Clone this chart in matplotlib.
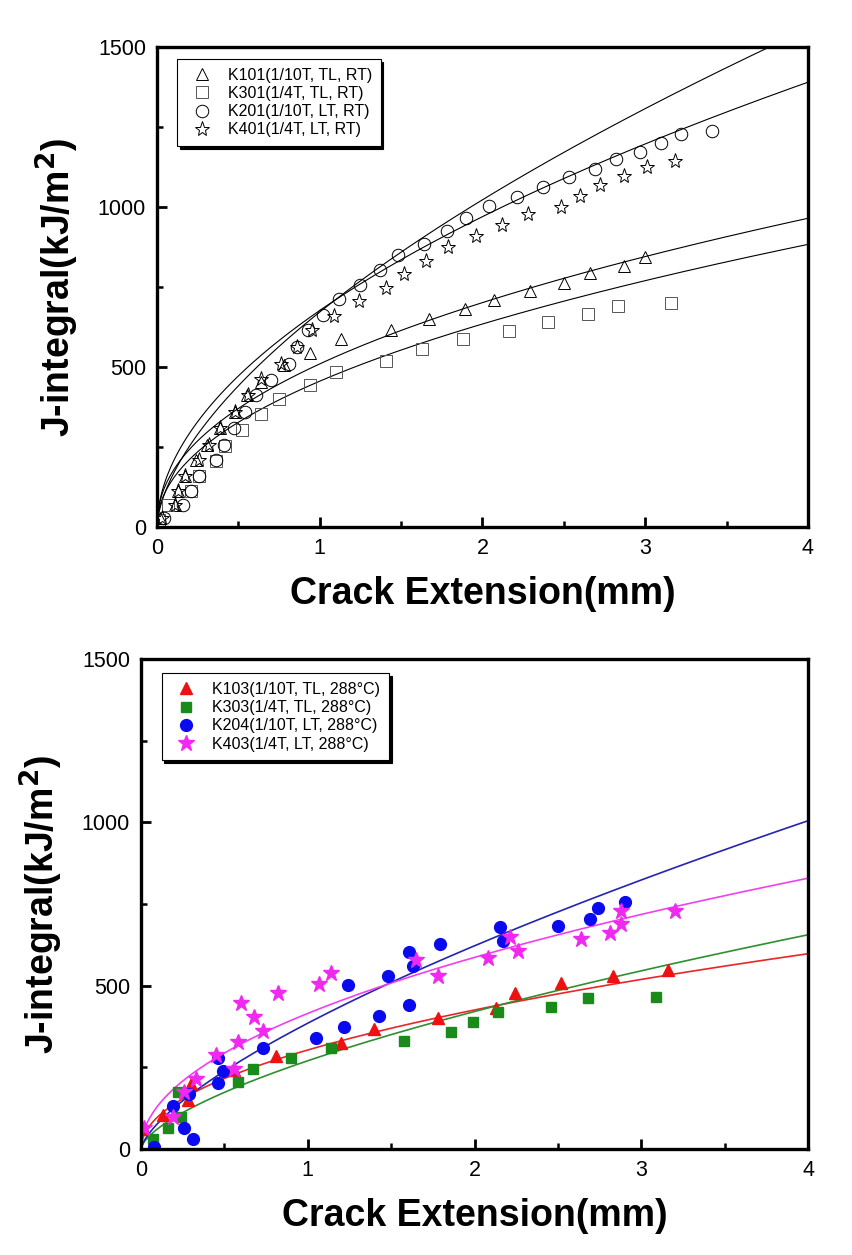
import numpy as np
import matplotlib
matplotlib.use('Agg')
import matplotlib.pyplot as plt
from matplotlib.ticker import MultipleLocator

plt.rcParams['font.family'] = ['Liberation Sans', 'DejaVu Sans']

# ---- top panel: room temperature (RT) ----
k101_x = [0.02, 0.11, 0.13, 0.17, 0.24, 0.31, 0.39, 0.48, 0.55, 0.64, 0.78, 0.94, 1.13,
          1.44, 1.67, 1.89, 2.07, 2.29, 2.50, 2.66, 2.87, 3.00]
k101_y = [28, 69, 112, 159, 209, 256, 309, 360, 412, 454, 506, 543, 587,
          616, 649, 680, 711, 738, 763, 793, 816, 845]
k301_x = [0.01, 0.07, 0.21, 0.26, 0.36, 0.42, 0.52, 0.64, 0.75, 0.94, 1.10, 1.41, 1.63,
          1.88, 2.16, 2.40, 2.65, 2.83, 3.16]
k301_y = [22, 69, 112, 159, 207, 254, 303, 352, 399, 444, 485, 520, 555,
          588, 613, 642, 666, 692, 701]
k201_x = [0.04, 0.16, 0.21, 0.26, 0.36, 0.41, 0.47, 0.54, 0.61, 0.70, 0.81, 0.86, 0.93,
          1.02, 1.12, 1.25, 1.37, 1.48, 1.64, 1.78, 1.90, 2.04, 2.21, 2.37, 2.53, 2.69,
          2.82, 2.97, 3.10, 3.22, 3.41]
k201_y = [28, 69, 112, 159, 209, 256, 309, 360, 412, 459, 511, 563, 616,
          662, 712, 758, 803, 849, 886, 926, 967, 1003, 1032, 1064, 1093, 1118,
          1149, 1173, 1201, 1228, 1238]
k401_x = [0.03, 0.11, 0.13, 0.17, 0.26, 0.32, 0.39, 0.48, 0.56, 0.64, 0.76, 0.86, 0.95,
          1.09, 1.24, 1.41, 1.52, 1.65, 1.79, 1.96, 2.12, 2.28, 2.48, 2.60, 2.72, 2.87,
          3.01, 3.18]
k401_y = [28, 69, 112, 159, 209, 256, 309, 360, 412, 464, 511, 563, 616,
          660, 707, 746, 790, 832, 876, 909, 943, 977, 1001, 1034, 1070, 1098,
          1126, 1145]
# power-law fits J = C * da^n (black lines)
top_fit_C = [672, 677, 510, 456]
top_fit_n = [0.606, 0.519, 0.46, 0.477]

# ---- bottom panel: 288 C ----
k103_x = [0.02, 0.13, 0.28, 0.30, 0.56, 0.81, 1.20, 1.40, 1.78, 2.13, 2.24, 2.52, 2.83, 3.16]
k103_y = [60, 104, 150, 199, 242, 285, 323, 366, 402, 433, 477, 507, 530, 548]
k303_x = [0.07, 0.16, 0.22, 0.24, 0.58, 0.67, 0.90, 1.14, 1.58, 1.86, 1.99, 2.14, 2.46, 2.68, 3.09]
k303_y = [30, 63, 174, 97, 206, 245, 278, 308, 332, 357, 390, 419, 436, 461, 466]
k204_x = [0.08, 0.19, 0.26, 0.29, 0.31, 0.46, 0.46, 0.49, 0.73, 1.05, 1.22, 1.24, 1.43,
          1.48, 1.61, 1.61, 1.63, 1.79, 2.15, 2.17, 2.50, 2.69, 2.74, 2.90]
k204_y = [7, 130, 63, 167, 31, 201, 278, 240, 308, 339, 374, 503, 407,
          528, 440, 602, 560, 628, 678, 636, 684, 704, 737, 757]
k403_x = [0.02, 0.19, 0.26, 0.33, 0.45, 0.56, 0.58, 0.60, 0.68, 0.73, 0.82, 1.07, 1.14,
          1.65, 1.78, 2.08, 2.21, 2.26, 2.64, 2.81, 2.88, 2.88, 3.20]
k403_y = [63, 99, 174, 213, 288, 245, 326, 448, 405, 361, 477, 504, 538,
          577, 528, 584, 650, 606, 643, 660, 689, 727, 727]
bot_fit_C = [303, 270, 385, 415]
bot_fit_n = [0.49, 0.64, 0.692, 0.499]
bot_fit_colors = ['#e8262a', '#2f8f2f', '#2424b0', '#f040f0']

da = np.linspace(0.003, 4, 400)

fig = plt.figure(figsize=(8.52, 12.55), dpi=100)
ax1 = fig.add_axes([0.1843, 0.580, 0.764, 0.3825])
ax2 = fig.add_axes([0.1655, 0.0845, 0.7829, 0.3904])


def style(ax):
    ax.set_xlim(0, 4)
    ax.set_ylim(0, 1500)
    ax.xaxis.set_major_locator(MultipleLocator(1))
    ax.xaxis.set_minor_locator(MultipleLocator(0.5))
    ax.yaxis.set_major_locator(MultipleLocator(500))
    ax.yaxis.set_minor_locator(MultipleLocator(250))
    ax.tick_params(which='major', direction='in', length=7, width=2, labelsize=15.5, pad=8)
    ax.tick_params(which='minor', direction='in', length=4, width=1.8)
    for s in ax.spines.values():
        s.set_linewidth(2.4)
    ax.set_xlabel('Crack Extension(mm)', fontsize=27, fontweight='bold', labelpad=12)
    ax.set_ylabel('J-integral(kJ/m$^\\mathbf{2}$)', fontsize=27, fontweight='bold', labelpad=12)


def add_legend(ax, anchor):
    leg = ax.legend(loc='upper left', bbox_to_anchor=anchor, fontsize=11.5,
                    fancybox=False, edgecolor='black', framealpha=1, borderaxespad=0,
                    shadow={'color': 'black', 'alpha': 1}, handletextpad=0.6,
                    labelspacing=0.2, borderpad=0.55, handlelength=2.0)
    leg.get_frame().set_linewidth(0.8)


style(ax1)
for C, n in zip(top_fit_C, top_fit_n):
    ax1.plot(da, C * da ** n, color='black', lw=0.8)
ax1.plot(k101_x, k101_y, '^', ms=9, mfc='none', mec='black', mew=0.7,
         label='K101(1/10T, TL, RT)')
ax1.plot(k301_x, k301_y, 's', ms=8, mfc='none', mec='#555555', mew=0.7,
         label='K301(1/4T, TL, RT)')
ax1.plot(k201_x, k201_y, 'o', ms=9, mfc='none', mec='black', mew=0.7,
         label='K201(1/10T, LT, RT)')
ax1.plot(k401_x, k401_y, '*', ms=11, mfc='none', mec='black', mew=0.7,
         label='K401(1/4T, LT, RT)')
add_legend(ax1, (0.031, 0.975))

style(ax2)
for C, n, c in zip(bot_fit_C, bot_fit_n, bot_fit_colors):
    ax2.plot(da, C * da ** n, color=c, lw=1.2)
ax2.plot(k103_x, k103_y, '^', ms=9, color='#ee1111', label='K103(1/10T, TL, 288°C)')
ax2.plot(k303_x, k303_y, 's', ms=7.5, color='#1a8a1a', label='K303(1/4T, TL, 288°C)')
ax2.plot(k204_x, k204_y, 'o', ms=8.5, color='#0a0af0', label='K204(1/10T, LT, 288°C)')
ax2.plot(k403_x, k403_y, '*', ms=12, color='#f028f0', label='K403(1/4T, LT, 288°C)')
add_legend(ax2, (0.031, 0.971))

fig.savefig('out.png', dpi=100)
